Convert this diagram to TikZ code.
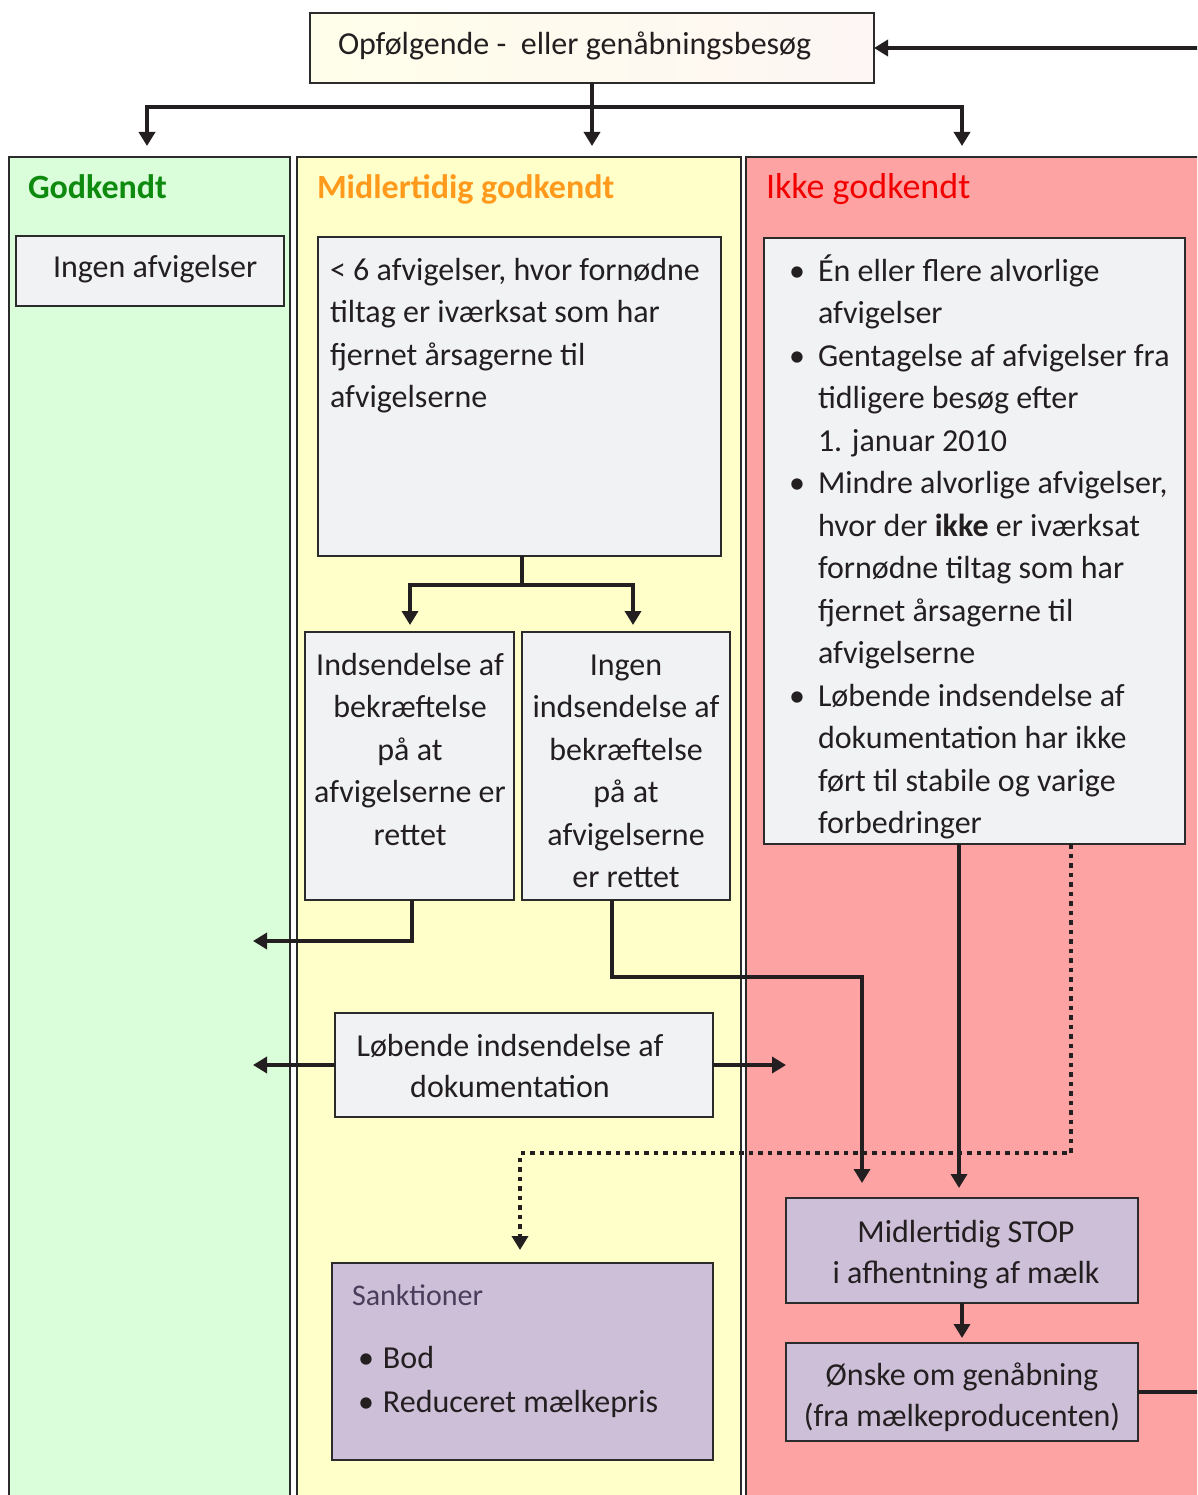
\documentclass[tikz,border=0pt]{standalone}
\usepackage{fontspec}
\setmainfont{Carlito}
\usetikzlibrary{arrows.meta}
\definecolor{gfill}{HTML}{D9FED9}
\definecolor{yfill}{HTML}{FFFFCA}
\definecolor{rfill}{HTML}{FEA3A3}
\definecolor{bgrey}{HTML}{F1F2F4}
\definecolor{lav}{HTML}{CDBFD8}
\definecolor{edge}{HTML}{2B2B2B}
\definecolor{ink}{HTML}{231F20}
\definecolor{tgreen}{HTML}{0E8A0E}
\definecolor{torange}{HTML}{FF9A1C}
\definecolor{tred}{HTML}{F20000}
\definecolor{sank}{HTML}{4A3D5C}
\definecolor{topL}{HTML}{FFFEEA}
\definecolor{topR}{HTML}{FDF6F4}
\newcommand\fst{\rule{0pt}{30pt}}
\newcommand\rbul{\makebox[29pt][l]{•}}
\newcommand\rind{\hspace*{29pt}}
\newcommand\sbul{\makebox[25pt][l]{•}}
\begin{document}
\begin{tikzpicture}[x=1pt,y=-1pt,
  col/.style={draw=edge, line width=2.4pt},
  box/.style={draw=edge, line width=2.2pt, fill=bgrey, anchor=north west, inner sep=0pt, outer sep=0pt},
  lbox/.style={box, fill=lav},
  txt/.style={inner sep=0pt, outer sep=0pt, text=ink, font=\fontsize{32}{42.5}\selectfont},
  txtb/.style={txt, font=\fontsize{32}{41.5}\selectfont},
  ttl/.style={inner sep=0pt, outer sep=0pt, anchor=base west, font=\fontsize{34}{40}\selectfont\bfseries},
  arr/.style={draw=ink, line width=4.2pt, -{Triangle[width=16pt,length=14pt]}},
  conn/.style={draw=ink, line width=4.2pt},
  dotl/.style={draw=ink, line width=4.5pt, dash pattern=on 4.5pt off 5pt, -{Triangle[width=16pt,length=14pt]}}
]
\useasboundingbox (0,0) rectangle (1197,1495);
\clip (0,0) rectangle (1197,1495);

% columns
\path[col, fill=gfill] (9,157) rectangle (290,1530);
\path[col, fill=yfill] (297,157) rectangle (741,1530);
\path[col, fill=rfill] (746,157) rectangle (1230,1530);

% titles
\node[ttl, text=tgreen] (tg) at (28,199) {Godkendt};
\node[ttl, text=torange] (tm) at (317,199) {Midlertidig godkendt};
\node[ttl, text=tred, font=\fontsize{36}{40}\selectfont] (tr) at (766,199) {Ikke godkendt};

% boxes
\node[box, left color=topL, right color=topR, minimum width=564pt, minimum height=70pt] (top) at (310,13) {};
\node[box, minimum width=268pt, minimum height=70pt] (ingen) at (16,236) {};
\node[box, minimum width=403pt, minimum height=319pt] (six) at (318,237) {};
\node[box, minimum width=209pt, minimum height=268pt] (ind) at (305,632) {};
\node[box, minimum width=208pt, minimum height=268pt] (ii) at (522,632) {};
\node[box, minimum width=421pt, minimum height=606pt] (rl) at (764,238) {};
\node[box, minimum width=378pt, minimum height=104pt] (lob) at (335,1013) {};
\node[lbox, minimum width=381pt, minimum height=197pt] (san) at (332,1263) {};
\node[lbox, minimum width=352pt, minimum height=105pt] (stop) at (786,1198) {};
\node[lbox, minimum width=352pt, minimum height=98pt] (onske) at (786,1343) {};

% connector points
\coordinate (hub) at (592,107);
\coordinate (tipG) at (147,146);
\coordinate (tipM) at (592,146);
\coordinate (tipR) at (962,146);
\coordinate (rin) at (1210,48);
\coordinate (sixhub) at (522,585);
\coordinate (tipA) at (410,625);
\coordinate (tipB) at (633,625);
\coordinate (tipL1) at (253,941);
\coordinate (bend1) at (862,977);
\coordinate (tipS1) at (862,1183);
\coordinate (tipS2) at (959,1188);
\coordinate (dhub) at (520,1153);
\coordinate (tipSan) at (520,1250);
\coordinate (tipL2) at (253,1065);
\coordinate (tipR2) at (786,1065);
\coordinate (tipO) at (962,1338);
\coordinate (rout) at (1210,1392);

% connectors
\draw[dotl] ([xshift=96.5pt]rl.south) |- (dhub) -- (tipSan);
\draw[arr] (rin) -- (top.east);
\draw[arr] (top.south) -- (tipM);
\draw[arr] (hub) -| (tipG);
\draw[arr] (hub) -| (tipR);
\draw[conn] ([xshift=2.5pt]six.south) -- (sixhub);
\draw[arr] (sixhub) -| (tipA);
\draw[arr] (sixhub) -| (tipB);
\draw[arr] ([xshift=2.5pt]ind.south) |- (tipL1);
\draw[arr] ([xshift=-14pt]ii.south) |- (bend1) -- (tipS1);
\draw[arr] ([xshift=-15.5pt]rl.south) -- (tipS2);
\draw[arr] (lob.west) -- (tipL2);
\draw[arr] (lob.east) -- (tipR2);
\draw[arr] (stop.south) -- (tipO);
\draw[conn] (onske.east) -- (rout);

% texts
\node[txt, anchor=base west] (toptxt) at (338,55) {Opfølgende - \ eller genåbningsbesøg};
\node[txt, anchor=base west] (ingentxt) at (53,278) {Ingen afvigelser};
\node[txt, anchor=north west, align=left] (sixtxt) at (330,250) {\fst< 6 afvigelser, hvor fornødne\\tiltag er iværksat som har\\fjernet årsagerne til\\afvigelserne};
\node[txt, anchor=north, align=center] (indtxt) at (410,645) {\fst Indsendelse af\\bekræftelse\\på at\\afvigelserne er\\rettet};
\node[txt, anchor=north, align=center] (iitxt) at (626,645) {\fst Ingen\\indsendelse af\\bekræftelse\\på at\\afvigelserne\\er rettet};
\node[txt, anchor=north west, align=left] (rltxt) at (789,251) {\fst\rbul Én eller flere alvorlige\\
\rind afvigelser\\
\rbul Gentagelse af afvigelser fra\\
\rind tidligere besøg efter\\
\rind 1. januar 2010\\
\rbul Mindre alvorlige afvigelser,\\
\rind hvor der \textbf{ikke} er iværksat\\
\rind fornødne tiltag som har\\
\rind fjernet årsagerne til\\
\rind afvigelserne\\
\rbul Løbende indsendelse af\\
\rind dokumentation har ikke\\
\rind ført til stabile og varige\\
\rind forbedringer};
\node[txtb, anchor=north, align=center] (lobtxt) at (510,1026) {\fst Løbende indsendelse af\\dokumentation};
\node[txt, anchor=base west, text=sank, font=\fontsize{30}{36}\selectfont] (santitle) at (352,1305) {Sanktioner};
\node[txt, anchor=north west, align=left, font=\fontsize{32}{44}\selectfont] (santxt) at (358,1338) {\fst\sbul Bod\\\sbul Reduceret mælkepris};
\node[txtb, anchor=north, align=center] (stoptxt) at (966,1212) {\fst Midlertidig STOP\\i afhentning af mælk};
\node[txtb, anchor=north, align=center] (onsketxt) at (962,1355) {\fst Ønske om genåbning\\(fra mælkeproducenten)};
\end{tikzpicture}
\end{document}
